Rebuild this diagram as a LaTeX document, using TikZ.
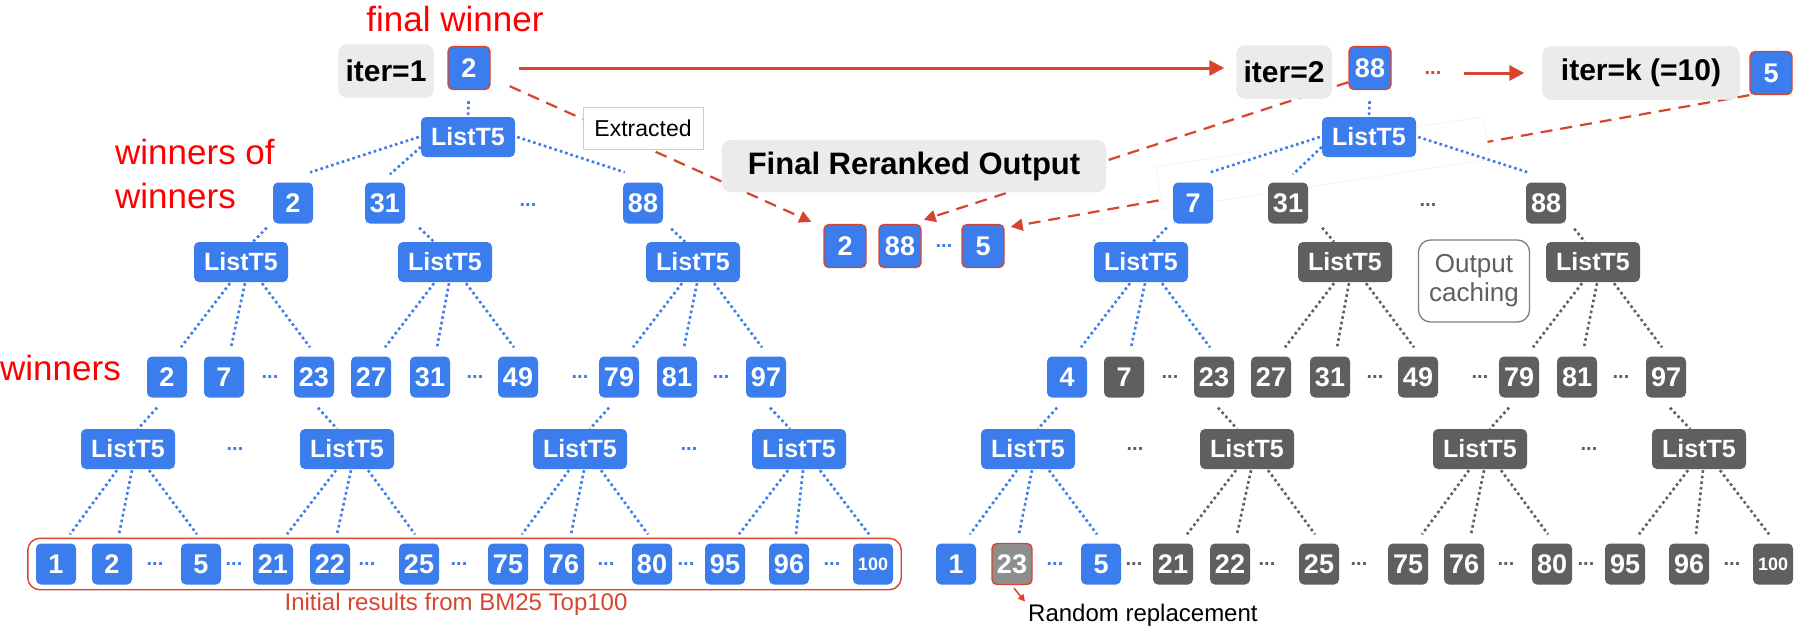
\documentclass[tikz,border=0pt]{standalone}
\usepackage{fontspec}
\setmainfont{Liberation Sans}
\usetikzlibrary{positioning, fit, backgrounds, arrows.meta}
\definecolor{lblue}{HTML}{3B7DEC}
\definecolor{dgray}{HTML}{5F5F5F}
\definecolor{mgray}{HTML}{8E8E8E}
\definecolor{rred}{HTML}{D8452E}
\definecolor{ired}{HTML}{FF0000}
\definecolor{boxgray}{HTML}{EBEBEB}

\begin{document}
\begin{tikzpicture}[x=1pt, y=-1pt,
    numbox/.style={rounded corners=5pt, fill=lblue, text=white, inner sep=1pt,
      minimum width=40pt, minimum height=41pt, font=\bfseries\fontsize{27}{27}\selectfont},
    graynum/.style={numbox, fill=dgray},
    topnum/.style={numbox, draw=rred, line width=1.4pt, minimum width=42pt, minimum height=43pt},
    listbox/.style={rounded corners=5pt, fill=lblue, text=white, inner sep=1pt,
      minimum width=94pt, minimum height=40pt, font=\bfseries\fontsize{25}{25}\selectfont},
    graylist/.style={listbox, fill=dgray},
    iterbox/.style={rounded corners=9pt, fill=boxgray, draw=black!10, minimum height=53pt,
      font=\bfseries\fontsize{30}{30}\selectfont},
    ellip/.style={text=lblue, inner sep=0pt, font=\bfseries\fontsize{20}{20}\selectfont},
    grayellip/.style={ellip, text=dgray},
    redlabel/.style={text=ired, font=\fontsize{35}{44}\selectfont},
    bluedots/.style={draw=lblue, line width=2.6pt, dash pattern=on 2.6pt off 3pt},
    graydots/.style={bluedots, draw=dgray},
    extract/.style={draw=rred, line width=2.2pt, dash pattern=on 12pt off 8pt,
      -{Triangle[length=12pt,width=12pt]}},
    iterarrow/.style={draw=rred, line width=3pt, -{Triangle[length=15pt,width=15pt]}}
  ]
  \newcommand\fanout[5]{%
    \draw[#5] ([xshift=-11pt,yshift=-1pt]#1.south) -- ([xshift=14pt,yshift=9pt]#2.north);
    \draw[#5] ([xshift=4pt,yshift=-1pt]#1.south) -- ([xshift=7pt,yshift=9pt]#3.north);
    \draw[#5] ([xshift=21pt,yshift=-1pt]#1.south) -- ([xshift=-4pt,yshift=9pt]#4.north);}
  \useasboundingbox (0,0) rectangle (1794,627);
  \begin{scope}[on background layer]
    \fill[white] (0,0) rectangle (1794,627);
  \end{scope}

  % iterations
  \node[redlabel] (fw) at (455,19) {final winner};
  \node[iterbox, minimum width=95pt] (it1) at (386,71) {iter=1};
  \node[topnum] (w1) at (469,68) {2};
  \node[iterbox, minimum width=95pt] (it2) at (1284,72) {iter=2};
  \node[topnum] (w2) at (1370,68) {88};
  \node[ellip, text=rred] (itdots) at (1433,73) {...};
  \node[iterbox, minimum width=197pt] (itk) at (1641,73) {iter=k (=10)};
  \node[topnum] (wk) at (1771,73) {5};
  \draw[iterarrow] ([xshift=28pt]w1.east) -- ([xshift=-12pt]w1.east -| it2.west);
  \draw[iterarrow] ([xshift=22pt]itdots.east) -- ([xshift=-18pt]itdots.east -| itk.west);

  % final output
  \node[draw=black!20, fill=white, inner sep=0pt, minimum width=120pt, minimum height=42pt,
    font=\fontsize{23}{23}\selectfont] (extr) at (643,128) {Extracted};
  \node[iterbox, rounded corners=10pt, minimum width=384pt, minimum height=52pt,
    font=\bfseries\fontsize{31}{31}\selectfont] (fro) at (914,166) {Final Reranked Output};
  \node[topnum] (f1) at (845,246) {2};
  \node[topnum] (f2) at (900,246) {88};
  \node[ellip] (fdots) at (944,246) {...};
  \node[topnum] (f3) at (983,246) {5};
  \begin{scope}[on background layer]
    \draw[extract] ([xshift=19pt,yshift=4pt]w1.south east) -- ([xshift=-12pt,yshift=2pt]f1.north west);
    \draw[extract] ([yshift=8pt]w2.south west) -- ([xshift=2pt,yshift=4pt]f2.north east);
    \draw[extract] (wk.south west) -- ([xshift=6pt,yshift=-3pt]f3.north east);
  \end{scope}

  % labels
  \node[redlabel, align=left, anchor=west, inner sep=0pt] (wow) at (115,174) {winners of\\winners};
  \node[redlabel, anchor=west, inner sep=0pt] (wn) at (0,368) {winners};

  % left tree
  \node[listbox] (alt0) at (468,137) {ListT5};
  \foreach \lab/\x in {2/293, 31/385, 88/643}
    \node[numbox] (a2-\lab) at (\x,203) {\lab};
  \node[ellip] (a2-d) at (528,205) {...};
  \foreach \n/\x in {1/241, 2/445, 3/693}
    \node[listbox] (alt\n) at (\x,262) {ListT5};
  \foreach \lab/\x in {2/167, 7/224, 23/314, 27/371, 31/430, 49/518, 79/619, 81/677, 97/766}
    \node[numbox] (a3-\lab) at (\x,377) {\lab};
  \foreach \x in {270, 475, 580, 721}
    \node[ellip] at (\x,377) {...};
  \foreach \n/\x in {1/128, 2/347, 3/580, 4/799}
    \node[listbox] (alb\n) at (\x,449) {ListT5};
  \foreach \x in {235, 689}
    \node[ellip] at (\x,449) {...};
  \foreach \lab/\x in {1/56, 2/112, 5/201, 21/273, 22/330, 25/419, 75/508, 76/564, 80/652, 95/725, 96/789}
    \node[numbox] (a5-\lab) at (\x,564) {\lab};
  \node[numbox, font=\bfseries\fontsize{18}{18}\selectfont] (a5-100) at (873,564) {100};
  \foreach \x in {155, 234, 367, 459, 606, 686, 832}
    \node[ellip] at (\x,564) {...};
  \node[fit=(a5-1)(a5-100), draw=rred, line width=1.4pt, rounded corners=12pt,
    inner xsep=8pt, inner ysep=5pt] (init) {};
  \node[text=rred, font=\fontsize{24}{24}\selectfont] (initlab) at (456,604) {Initial results from BM25 Top100};

  \draw[bluedots, shorten <=11pt, shorten >=1pt] (w1.south) -- (alt0.north);
  \draw[bluedots] ([xshift=-2pt]alt0.west) -- ([xshift=-3pt,yshift=10pt]a2-2.north east);
  \draw[bluedots] ([yshift=-10pt]alt0.west) -- ([xshift=5pt,yshift=8pt]a2-31.north);
  \draw[bluedots] ([xshift=2pt]alt0.east) -- ([xshift=2pt,yshift=10pt]a2-88.north west);
  \draw[bluedots] ([xshift=-6pt,yshift=-4pt]a2-2.south west) -- ([xshift=12pt]alt1.north);
  \draw[bluedots] ([xshift=14pt,yshift=-4pt]a2-31.south east) -- ([xshift=-11pt]alt2.north);
  \draw[bluedots] ([xshift=8pt,yshift=-5pt]a2-88.south east) -- ([xshift=-8pt]alt3.north);
  \fanout{alt1}{a3-2}{a3-7}{a3-23}{bluedots}
  \fanout{alt2}{a3-27}{a3-31}{a3-49}{bluedots}
  \fanout{alt3}{a3-79}{a3-81}{a3-97}{bluedots}
  \draw[bluedots] ([xshift=-10pt,yshift=-10pt]a3-2.south) -- ([xshift=10pt]alb1.north);
  \draw[bluedots] ([xshift=4pt,yshift=-10pt]a3-23.south) -- ([xshift=-10pt]alb2.north);
  \draw[bluedots] ([xshift=-10pt,yshift=-10pt]a3-79.south) -- ([xshift=10pt]alb3.north);
  \draw[bluedots] ([xshift=4pt,yshift=-10pt]a3-97.south) -- ([xshift=-9pt]alb4.north);
  \fanout{alb1}{a5-1}{a5-2}{a5-5}{bluedots}
  \fanout{alb2}{a5-21}{a5-22}{a5-25}{bluedots}
  \fanout{alb3}{a5-75}{a5-76}{a5-80}{bluedots}
  \fanout{alb4}{a5-95}{a5-96}{a5-100}{bluedots}

  % right tree
  \node[draw=black!8, fill=white, minimum width=331pt, minimum height=43pt, rotate=8.7] (blank) at (1323,163) {};
  \node[listbox] (blt0) at (1369,137) {ListT5};
  \foreach \lab/\x/\sty in {7/1193/numbox, 31/1288/graynum, 88/1546/graynum}
    \node[\sty] (b2-\lab) at (\x,203) {\lab};
  \node[grayellip] (b2-d) at (1428,205) {...};
  \foreach \n/\x/\sty in {1/1141/listbox, 2/1345/graylist, 3/1593/graylist}
    \node[\sty] (blt\n) at (\x,262) {ListT5};
  \node[draw=dgray!80, line width=1.3pt, rounded corners=12pt, fill=white, text=dgray,
    minimum width=111pt, minimum height=82pt, align=center,
    font=\fontsize{26}{29}\selectfont] (cache) at (1474,281) {Output\\caching};
  \foreach \lab/\x/\sty in {4/1067/numbox, 7/1124/graynum, 23/1214/graynum, 27/1271/graynum,
      31/1330/graynum, 49/1418/graynum, 79/1519/graynum, 81/1577/graynum, 97/1666/graynum}
    \node[\sty] (b3-\lab) at (\x,377) {\lab};
  \foreach \x in {1170, 1375, 1480, 1621}
    \node[grayellip] at (\x,377) {...};
  \foreach \n/\x/\sty in {1/1028/listbox, 2/1247/graylist, 3/1480/graylist, 4/1699/graylist}
    \node[\sty] (blb\n) at (\x,449) {ListT5};
  \foreach \x in {1135, 1589}
    \node[grayellip] at (\x,449) {...};
  \foreach \lab/\x/\sty in {1/956/numbox, 5/1101/numbox, 21/1173/graynum, 22/1230/graynum,
      25/1319/graynum, 75/1408/graynum, 76/1464/graynum, 80/1552/graynum, 95/1625/graynum, 96/1689/graynum}
    \node[\sty] (b5-\lab) at (\x,564) {\lab};
  \node[graynum, fill=mgray, draw=rred, line width=1.4pt] (b5-23) at (1012,564) {23};
  \node[graynum, font=\bfseries\fontsize{18}{18}\selectfont] (b5-100) at (1773,564) {100};
  \node[ellip] at (1055,564) {...};
  \foreach \x in {1134, 1267, 1359, 1506, 1586, 1732}
    \node[grayellip] at (\x,564) {...};
  \node[font=\fontsize{24}{24}\selectfont, anchor=west, inner sep=0pt] (rr) at (1028,615) {Random replacement};
  \draw[rred, line width=1.5pt, -{Triangle[length=7pt,width=7pt]}]
    ([xshift=2pt,yshift=-3pt]b5-23.south) -- ([xshift=-3pt,yshift=2pt]rr.north west);

  \draw[bluedots, shorten <=11pt, shorten >=1pt] (w2.south) -- (blt0.north);
  \draw[bluedots] ([xshift=-2pt]blt0.west) -- ([xshift=-3pt,yshift=10pt]b2-7.north east);
  \draw[bluedots] ([yshift=-10pt]blt0.west) -- ([xshift=5pt,yshift=8pt]b2-31.north);
  \draw[bluedots] ([xshift=2pt]blt0.east) -- ([xshift=2pt,yshift=10pt]b2-88.north west);
  \draw[bluedots] ([xshift=-6pt,yshift=-4pt]b2-7.south west) -- ([xshift=12pt]blt1.north);
  \draw[graydots] ([xshift=14pt,yshift=-4pt]b2-31.south east) -- ([xshift=-11pt]blt2.north);
  \draw[graydots] ([xshift=8pt,yshift=-5pt]b2-88.south east) -- ([xshift=-8pt]blt3.north);
  \fanout{blt1}{b3-4}{b3-7}{b3-23}{bluedots}
  \fanout{blt2}{b3-27}{b3-31}{b3-49}{graydots}
  \fanout{blt3}{b3-79}{b3-81}{b3-97}{graydots}
  \draw[bluedots] ([xshift=-10pt,yshift=-10pt]b3-4.south) -- ([xshift=10pt]blb1.north);
  \draw[graydots] ([xshift=4pt,yshift=-10pt]b3-23.south) -- ([xshift=-10pt]blb2.north);
  \draw[graydots] ([xshift=-10pt,yshift=-10pt]b3-79.south) -- ([xshift=10pt]blb3.north);
  \draw[graydots] ([xshift=4pt,yshift=-10pt]b3-97.south) -- ([xshift=-9pt]blb4.north);
  \fanout{blb1}{b5-1}{b5-23}{b5-5}{bluedots}
  \fanout{blb2}{b5-21}{b5-22}{b5-25}{graydots}
  \fanout{blb3}{b5-75}{b5-76}{b5-80}{graydots}
  \fanout{blb4}{b5-95}{b5-96}{b5-100}{graydots}
\end{tikzpicture}
\end{document}
